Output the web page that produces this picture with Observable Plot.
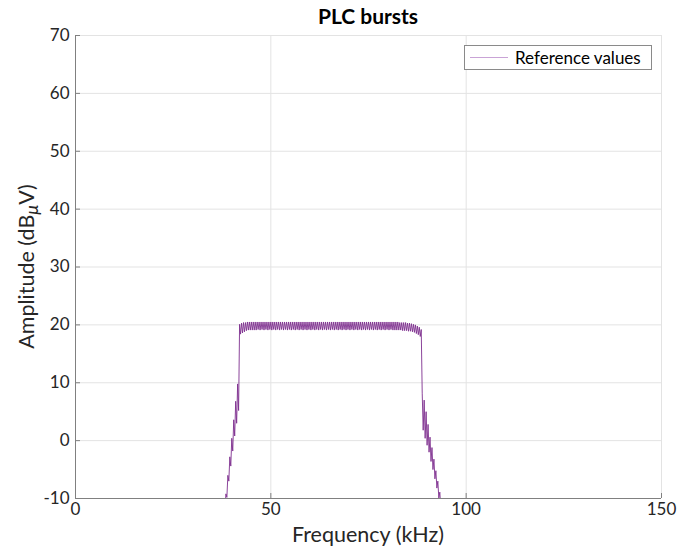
<!DOCTYPE html>
<html><head><meta charset="utf-8">
<script src="https://cdn.jsdelivr.net/npm/d3@7"></script>
<script src="https://cdn.jsdelivr.net/npm/@observablehq/plot@0.6"></script>
<style>body{margin:0;background:#fff;}</style>
</head><body><div id="chart"></div>
<script>
// ---- data ----
const titleText = "PLC bursts";
const xLabel = "Frequency (kHz)";
const seriesName = "Reference values";
const xTicks = [0, 50, 100, 150];
const yTicks = [-10, 0, 10, 20, 30, 40, 50, 60, 70];

// rising edge (kHz, dBµV)
const riseFreq = [38.25, 38.5, 38.75, 39, 39.25, 39.5, 39.75, 40, 40.25, 40.5, 40.75, 41, 41.25, 41.5, 41.75];
const riseAmp  = [-12, -9.2, -9.8, -6.0, -7.0, -2.8, -4.4, 0.4, -1.8, 3.6, 0.8, 6.8, 3.0, 9.8, 5.2];

// flat burst band
const bandFreq = [
  42, 42.25, 42.5, 42.75, 43, 43.25, 43.5, 43.75,
  44, 44.25, 44.5, 44.75, 45, 45.25, 45.5, 45.75,
  46, 46.25, 46.5, 46.75, 47, 47.25, 47.5, 47.75,
  48, 48.25, 48.5, 48.75, 49, 49.25, 49.5, 49.75,
  50, 50.25, 50.5, 50.75, 51, 51.25, 51.5, 51.75,
  52, 52.25, 52.5, 52.75, 53, 53.25, 53.5, 53.75,
  54, 54.25, 54.5, 54.75, 55, 55.25, 55.5, 55.75,
  56, 56.25, 56.5, 56.75, 57, 57.25, 57.5, 57.75,
  58, 58.25, 58.5, 58.75, 59, 59.25, 59.5, 59.75,
  60, 60.25, 60.5, 60.75, 61, 61.25, 61.5, 61.75,
  62, 62.25, 62.5, 62.75, 63, 63.25, 63.5, 63.75,
  64, 64.25, 64.5, 64.75, 65, 65.25, 65.5, 65.75,
  66, 66.25, 66.5, 66.75, 67, 67.25, 67.5, 67.75,
  68, 68.25, 68.5, 68.75, 69, 69.25, 69.5, 69.75,
  70, 70.25, 70.5, 70.75, 71, 71.25, 71.5, 71.75,
  72, 72.25, 72.5, 72.75, 73, 73.25, 73.5, 73.75,
  74, 74.25, 74.5, 74.75, 75, 75.25, 75.5, 75.75,
  76, 76.25, 76.5, 76.75, 77, 77.25, 77.5, 77.75,
  78, 78.25, 78.5, 78.75, 79, 79.25, 79.5, 79.75,
  80, 80.25, 80.5, 80.75, 81, 81.25, 81.5, 81.75,
  82, 82.25, 82.5, 82.75, 83, 83.25, 83.5, 83.75,
  84, 84.25, 84.5, 84.75, 85, 85.25, 85.5, 85.75,
  86, 86.25, 86.5, 86.75, 87, 87.25, 87.5, 87.75,
  88, 88.25, 88.5
];
const bandAmp = [
  20.1, 18.4, 20.3, 18.6, 20.4, 18.8, 20.4, 19.0,
  20.5, 19.1, 20.5, 19.1, 20.5, 19.1, 20.5, 19.1,
  20.5, 19.1, 20.5, 19.2, 20.5, 19.1, 20.5, 19.2,
  20.5, 19.1, 20.5, 19.2, 20.5, 19.1, 20.5, 19.2,
  20.5, 19.1, 20.5, 19.2, 20.5, 19.1, 20.5, 19.2,
  20.5, 19.1, 20.5, 19.2, 20.5, 19.1, 20.5, 19.2,
  20.5, 19.1, 20.5, 19.2, 20.5, 19.1, 20.5, 19.2,
  20.5, 19.1, 20.5, 19.2, 20.5, 19.1, 20.5, 19.2,
  20.5, 19.1, 20.5, 19.2, 20.5, 19.1, 20.5, 19.2,
  20.5, 19.1, 20.5, 19.2, 20.5, 19.1, 20.5, 19.2,
  20.5, 19.1, 20.5, 19.2, 20.5, 19.1, 20.5, 19.2,
  20.5, 19.1, 20.5, 19.2, 20.5, 19.1, 20.5, 19.2,
  20.5, 19.1, 20.5, 19.2, 20.5, 19.1, 20.5, 19.2,
  20.5, 19.1, 20.5, 19.2, 20.5, 19.1, 20.5, 19.2,
  20.5, 19.1, 20.5, 19.2, 20.5, 19.1, 20.5, 19.2,
  20.5, 19.1, 20.5, 19.2, 20.5, 19.1, 20.5, 19.2,
  20.5, 19.1, 20.5, 19.2, 20.5, 19.1, 20.5, 19.2,
  20.5, 19.1, 20.5, 19.2, 20.5, 19.1, 20.5, 19.2,
  20.5, 19.1, 20.5, 19.2, 20.5, 19.1, 20.5, 19.2,
  20.5, 19.1, 20.5, 19.2, 20.5, 19.1, 20.5, 19.1,
  20.5, 19.1, 20.5, 19.1, 20.4, 19.1, 20.4, 19.0,
  20.4, 19.0, 20.4, 19.0, 20.3, 18.9, 20.3, 18.9,
  20.2, 18.8, 20.1, 18.7, 20.0, 18.5, 19.8, 18.3,
  19.6, 18.0, 19.2
];

// falling edge
const fallFreq = [88.75, 89, 89.25, 89.5, 89.75, 90, 90.25, 90.5, 90.75, 91, 91.25, 91.5, 91.75, 92, 92.25, 92.5, 92.75, 93, 93.25, 93.5, 93.75];
const fallAmp  = [8.2, 1.8, 7.0, 0.4, 5.0, -0.8, 2.8, -2.0, 0.6, -3.6, -1.2, -5.0, -3.2, -6.6, -5.2, -8.2, -7.0, -9.9, -8.9, -11.5, -12];

const freq = [...riseFreq, ...bandFreq, ...fallFreq];
const amp = [...riseAmp, ...bandAmp, ...fallAmp];
const data = freq.map((f, i) => ({f, a: amp[i]}));

// ---- layout ----
const W = 679, H = 550, mL = 75, mR = 18, mT = 35, mB = 52;
const lineColor = "#7E2F8E";
const axisColor = "#808080";
const gridColor = "#e3e3e3";
const font = "Lato, 'Open Sans', sans-serif";
const fmt = d => String(d);

const plot = Plot.plot({
  width: W, height: H,
  marginLeft: mL, marginRight: mR, marginTop: mT, marginBottom: mB,
  style: {fontFamily: font, fontSize: "17px", color: "#262626", background: "#fff"},
  x: {domain: [0, 150], label: null},
  y: {domain: [-10, 70], label: null},
  marks: [
    Plot.gridX(xTicks, {stroke: gridColor, strokeOpacity: 1}),
    Plot.gridY(yTicks, {stroke: gridColor, strokeOpacity: 1}),
    Plot.line(data, {x: "f", y: "a", stroke: lineColor, strokeWidth: 0.9, clip: true}),
    Plot.ruleX([0], {stroke: axisColor}),
    Plot.ruleY([-10], {stroke: axisColor}),
    Plot.ruleX(xTicks, {stroke: axisColor, insetTop: H - mT - mB - 5}),
    Plot.ruleY(yTicks, {stroke: axisColor, insetRight: W - mL - mR - 5}),
    Plot.axisX(xTicks, {tickSize: 0, tickPadding: 4, label: null, tickFormat: fmt}),
    Plot.axisY(yTicks, {tickSize: 0, tickPadding: 6, label: null, tickFormat: fmt})
  ]
});

const svg = d3.select(plot);
const cx = (mL + (W - mR)) / 2;
const cy = (mT + (H - mB)) / 2;

svg.append("text")
  .attr("x", cx).attr("y", 24)
  .attr("text-anchor", "middle")
  .attr("font-family", font).attr("font-weight", "bold").attr("font-size", 21)
  .attr("fill", "#000")
  .text(titleText);

svg.append("text")
  .attr("x", cx).attr("y", 542)
  .attr("text-anchor", "middle")
  .attr("font-family", font).attr("font-size", 21.5)
  .attr("fill", "#262626")
  .text(xLabel);

const yl = svg.append("text")
  .attr("transform", `translate(34,${cy}) rotate(-90)`)
  .attr("text-anchor", "middle")
  .attr("font-family", font).attr("font-size", 21.5)
  .attr("fill", "#262626");
yl.append("tspan").text("Amplitude (dB");
yl.append("tspan").attr("dy", 4).attr("font-style", "italic").attr("font-size", 18).text("\u03bc");
yl.append("tspan").attr("dy", -4).text("V)");

// legend
const lg = svg.append("g");
lg.append("rect")
  .attr("x", 464.5).attr("y", 45.5).attr("width", 187).attr("height", 24)
  .attr("fill", "#fff").attr("stroke", "#8a8a8a").attr("stroke-width", 1);
lg.append("line")
  .attr("x1", 470).attr("x2", 508).attr("y1", 57.5).attr("y2", 57.5)
  .attr("stroke", "#c9a3d6").attr("stroke-width", 1);
lg.append("text")
  .attr("x", 515).attr("y", 63.5)
  .attr("text-anchor", "start")
  .attr("font-family", font).attr("font-size", 17).attr("fill", "#000")
  .text(seriesName);

document.getElementById("chart").appendChild(plot);
</script>
</body></html>
